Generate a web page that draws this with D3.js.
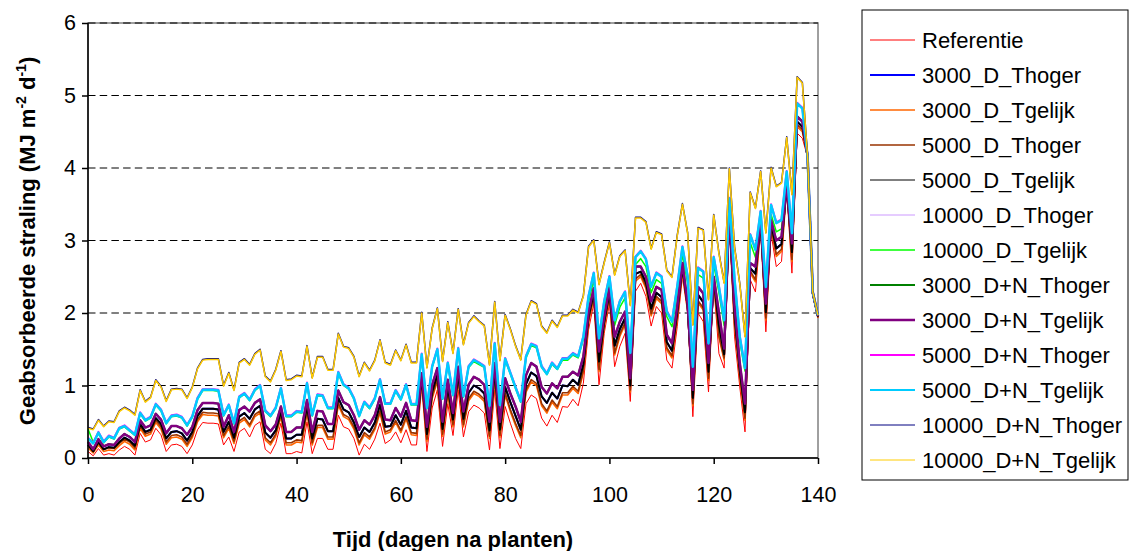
<!DOCTYPE html>
<html><head><meta charset="utf-8">
<script src="https://cdn.jsdelivr.net/npm/d3@7"></script>
<style>body{margin:0;background:#fff;} text{font-family:"Liberation Sans",Arial,sans-serif;fill:#000;}</style>
</head><body><svg id="c" width="1130" height="551"></svg>
<script>
// ---- data ----
const days = d3.range(0, 141);
const xTicks = [0,20,40,60,80,100,120,140];
const yTicks = [0,1,2,3,4,5,6];

const referentie = [0.09,0.03,0.13,0.04,0.06,0.04,0.11,0.16,0.12,0.04,
 0.34,0.22,0.25,0.41,0.32,0.09,0.18,0.19,0.16,0.06,
 0.18,0.39,0.49,0.48,0.48,0.47,0.18,0.29,0.09,0.36,
 0.41,0.29,0.45,0.50,0.12,0.06,0.20,0.48,0.06,0.06,
 0.09,0.07,0.50,0.06,0.27,0.27,0.12,0.12,0.59,0.43,
 0.40,0.27,0.04,0.19,0.12,0.26,0.48,0.20,0.25,0.36,
 0.21,0.39,0.18,0.18,0.98,0.09,0.69,0.94,0.16,0.75,
 0.31,0.94,0.29,0.64,0.73,0.69,0.62,0.11,0.94,0.13,
 0.71,0.48,0.27,0.13,0.75,0.87,0.82,0.55,0.44,0.59,
 0.49,0.71,0.70,0.81,0.72,1.03,1.77,2.13,1.01,1.72,
 2.13,1.26,1.54,1.72,0.78,2.30,2.41,2.23,1.82,2.09,
 2.00,1.35,1.24,1.81,2.50,2.00,0.57,2.00,1.88,0.91,
 2.41,1.44,1.24,3.24,1.67,0.98,0.36,2.46,2.29,3.14,
 1.74,3.10,2.64,2.71,3.70,2.55,4.48,4.41,4.15,2.25,
 1.93];

const d3000_Thoger = [0.18,0.09,0.22,0.12,0.15,0.14,0.22,0.28,0.24,0.17,
 0.47,0.36,0.39,0.55,0.47,0.27,0.36,0.37,0.34,0.24,
 0.36,0.58,0.68,0.68,0.68,0.67,0.36,0.50,0.28,0.57,
 0.62,0.54,0.67,0.72,0.35,0.28,0.38,0.64,0.27,0.27,
 0.32,0.32,0.71,0.27,0.54,0.53,0.37,0.37,0.83,0.67,
 0.63,0.49,0.29,0.42,0.36,0.49,0.73,0.43,0.44,0.59,
 0.46,0.65,0.42,0.41,1.11,0.33,0.91,1.15,0.40,0.98,
 0.53,1.16,0.54,0.90,1.00,0.96,0.89,0.38,1.20,0.39,
 0.98,0.77,0.58,0.39,1.02,1.18,1.13,0.85,0.76,0.90,
 0.82,1.00,0.99,1.08,1.01,1.29,1.95,2.28,1.33,1.88,
 2.28,1.55,1.78,1.93,1.00,2.54,2.57,2.42,2.06,2.28,
 2.22,1.60,1.48,2.01,2.63,2.09,0.83,2.25,2.15,1.19,
 2.47,1.83,1.43,3.37,1.96,1.21,0.63,2.62,2.54,3.26,
 2.01,3.23,2.89,2.95,3.76,2.84,4.64,4.57,4.16,2.27,
 1.95];

const d3000_Tgelijk = [0.14,0.07,0.18,0.09,0.11,0.10,0.17,0.23,0.19,0.11,
 0.41,0.30,0.33,0.49,0.40,0.19,0.28,0.29,0.26,0.16,
 0.28,0.50,0.60,0.59,0.59,0.58,0.28,0.41,0.20,0.48,
 0.53,0.43,0.57,0.62,0.25,0.18,0.30,0.57,0.18,0.18,
 0.22,0.21,0.62,0.18,0.42,0.42,0.26,0.26,0.73,0.57,
 0.53,0.40,0.18,0.32,0.26,0.39,0.62,0.33,0.36,0.49,
 0.35,0.54,0.32,0.31,1.06,0.23,0.82,1.06,0.30,0.88,
 0.43,1.07,0.43,0.79,0.89,0.85,0.78,0.27,1.09,0.28,
 0.87,0.64,0.45,0.28,0.91,1.05,1.00,0.72,0.62,0.77,
 0.68,0.87,0.87,0.96,0.89,1.18,1.87,2.21,1.19,1.81,
 2.21,1.42,1.68,1.84,0.91,2.44,2.50,2.34,1.96,2.20,
 2.13,1.49,1.38,1.92,2.58,2.05,0.72,2.14,2.04,1.07,
 2.45,1.66,1.35,3.31,1.84,1.11,0.52,2.55,2.43,3.21,
 1.90,3.17,2.78,2.85,3.74,2.71,4.57,4.50,4.16,2.26,
 1.94];

const d5000_Thoger = [0.17,0.10,0.21,0.12,0.14,0.13,0.20,0.26,0.22,0.14,
 0.44,0.33,0.36,0.52,0.43,0.22,0.31,0.32,0.29,0.19,
 0.31,0.53,0.63,0.62,0.62,0.61,0.31,0.44,0.23,0.51,
 0.56,0.46,0.60,0.65,0.28,0.21,0.33,0.60,0.21,0.21,
 0.25,0.24,0.65,0.21,0.45,0.45,0.29,0.29,0.76,0.60,
 0.56,0.43,0.21,0.35,0.29,0.42,0.65,0.36,0.39,0.52,
 0.38,0.57,0.35,0.34,1.09,0.26,0.85,1.09,0.33,0.91,
 0.46,1.10,0.46,0.82,0.92,0.88,0.81,0.30,1.12,0.31,
 0.90,0.67,0.48,0.31,0.94,1.08,1.03,0.75,0.65,0.80,
 0.71,0.90,0.90,0.99,0.92,1.21,1.90,2.24,1.22,1.84,
 2.24,1.45,1.71,1.87,0.94,2.47,2.53,2.37,1.99,2.23,
 2.16,1.52,1.41,1.95,2.61,2.08,0.75,2.17,2.07,1.10,
 2.48,1.69,1.38,3.34,1.87,1.14,0.55,2.58,2.46,3.24,
 1.93,3.20,2.81,2.88,3.77,2.74,4.60,4.53,4.16,2.26,
 1.94];

const d5000_Tgelijk = [0.18,0.09,0.22,0.12,0.15,0.14,0.22,0.28,0.24,0.17,
 0.47,0.36,0.39,0.55,0.47,0.27,0.36,0.37,0.34,0.24,
 0.36,0.58,0.68,0.68,0.68,0.67,0.36,0.50,0.28,0.57,
 0.62,0.54,0.67,0.72,0.35,0.28,0.38,0.64,0.27,0.27,
 0.32,0.32,0.71,0.27,0.54,0.53,0.37,0.37,0.83,0.67,
 0.63,0.49,0.29,0.42,0.36,0.49,0.73,0.43,0.44,0.59,
 0.46,0.65,0.42,0.41,1.11,0.33,0.91,1.15,0.40,0.98,
 0.53,1.16,0.54,0.90,1.00,0.96,0.89,0.38,1.20,0.39,
 0.98,0.77,0.58,0.39,1.02,1.18,1.13,0.85,0.76,0.90,
 0.82,1.00,0.99,1.08,1.01,1.29,1.95,2.28,1.33,1.88,
 2.28,1.55,1.78,1.93,1.00,2.54,2.57,2.42,2.06,2.28,
 2.22,1.60,1.48,2.01,2.63,2.09,0.83,2.25,2.15,1.19,
 2.47,1.83,1.43,3.37,1.96,1.21,0.63,2.62,2.54,3.26,
 2.01,3.23,2.89,2.95,3.76,2.84,4.64,4.57,4.16,2.27,
 1.95];

const d10000_Thoger = [0.27,0.20,0.35,0.22,0.30,0.27,0.41,0.44,0.38,0.32,
 0.62,0.52,0.56,0.74,0.66,0.48,0.58,0.59,0.56,0.45,
 0.57,0.82,0.94,0.94,0.94,0.93,0.59,0.73,0.48,0.84,
 0.89,0.80,0.94,1.00,0.65,0.58,0.69,0.96,0.58,0.58,
 0.64,0.63,1.03,0.59,0.87,0.86,0.69,0.69,1.18,1.01,
 0.96,0.82,0.58,0.77,0.69,0.82,1.08,0.75,0.75,0.93,
 0.81,1.01,0.74,0.74,1.43,0.69,1.26,1.50,0.82,1.31,
 0.87,1.51,0.85,1.26,1.35,1.31,1.26,0.72,1.58,0.73,
 1.37,1.17,0.97,0.78,1.40,1.57,1.54,1.26,1.16,1.31,
 1.23,1.37,1.37,1.44,1.40,1.67,2.23,2.55,1.65,2.16,
 2.50,1.90,2.16,2.29,1.45,2.77,2.85,2.74,2.36,2.55,
 2.50,2.02,1.88,2.36,2.91,2.50,1.26,2.62,2.57,1.58,
 2.77,2.36,1.90,3.58,2.46,1.67,1.24,3.08,2.87,3.40,
 2.36,3.49,3.24,3.28,3.95,3.10,4.89,4.82,4.16,2.29,
 1.97];

const d10000_Tgelijk = [0.40,0.22,0.34,0.21,0.29,0.26,0.40,0.43,0.37,0.31,
 0.61,0.51,0.55,0.73,0.65,0.47,0.57,0.58,0.55,0.44,
 0.56,0.81,0.93,0.93,0.93,0.92,0.58,0.72,0.47,0.83,
 0.88,0.79,0.93,0.99,0.64,0.57,0.68,0.95,0.57,0.57,
 0.63,0.62,1.02,0.58,0.86,0.85,0.68,0.68,1.16,1.00,
 0.95,0.81,0.57,0.76,0.68,0.81,1.07,0.74,0.74,0.92,
 0.80,1.00,0.73,0.73,1.41,0.68,1.25,1.48,0.81,1.29,
 0.86,1.49,0.84,1.25,1.33,1.29,1.25,0.71,1.56,0.72,
 1.35,1.16,0.96,0.77,1.38,1.55,1.52,1.25,1.15,1.29,
 1.22,1.35,1.35,1.42,1.38,1.64,2.15,2.46,1.61,2.08,
 2.41,1.83,2.08,2.21,1.40,2.67,2.75,2.64,2.28,2.46,
 2.41,1.95,1.81,2.28,2.81,2.41,1.22,2.53,2.48,1.52,
 2.67,2.28,1.83,3.45,2.37,1.61,1.20,2.97,2.77,3.28,
 2.28,3.36,3.12,3.16,3.81,2.99,4.72,4.65,4.16,2.28,
 1.96];

const dn3000_Thoger = [0.22,0.12,0.26,0.16,0.19,0.18,0.27,0.33,0.29,0.22,
 0.52,0.42,0.45,0.61,0.53,0.34,0.44,0.44,0.41,0.32,
 0.43,0.66,0.76,0.76,0.76,0.75,0.43,0.59,0.36,0.66,
 0.71,0.64,0.76,0.81,0.45,0.37,0.46,0.71,0.36,0.36,
 0.42,0.42,0.80,0.36,0.65,0.64,0.47,0.47,0.93,0.77,
 0.73,0.59,0.39,0.52,0.46,0.59,0.84,0.53,0.52,0.69,
 0.57,0.76,0.52,0.51,1.17,0.43,1.01,1.24,0.50,1.08,
 0.62,1.26,0.64,1.01,1.12,1.08,1.01,0.50,1.31,0.50,
 1.10,0.89,0.71,0.50,1.14,1.31,1.26,0.98,0.89,1.03,
 0.96,1.12,1.12,1.19,1.14,1.40,2.02,2.34,1.47,1.95,
 2.34,1.67,1.88,2.02,1.10,2.64,2.64,2.50,2.16,2.36,
 2.32,1.70,1.58,2.09,2.69,2.13,0.94,2.36,2.27,1.31,
 2.50,2.00,1.51,3.42,2.09,1.31,0.75,2.69,2.64,3.31,
 2.13,3.28,3.00,3.05,3.79,2.96,4.71,4.64,4.17,2.28,
 1.96];

const dn3000_Tgelijk = [0.22,0.12,0.26,0.16,0.19,0.18,0.27,0.33,0.29,0.22,
 0.52,0.42,0.45,0.61,0.53,0.34,0.44,0.44,0.41,0.32,
 0.43,0.66,0.76,0.76,0.76,0.75,0.43,0.59,0.36,0.66,
 0.71,0.64,0.76,0.81,0.45,0.37,0.46,0.71,0.36,0.36,
 0.42,0.42,0.80,0.36,0.65,0.64,0.47,0.47,0.93,0.77,
 0.73,0.59,0.39,0.52,0.46,0.59,0.84,0.53,0.52,0.69,
 0.57,0.76,0.52,0.51,1.17,0.43,1.01,1.24,0.50,1.08,
 0.62,1.26,0.64,1.01,1.12,1.08,1.01,0.50,1.31,0.50,
 1.10,0.89,0.71,0.50,1.14,1.31,1.26,0.98,0.89,1.03,
 0.96,1.12,1.12,1.19,1.14,1.40,2.02,2.34,1.47,1.95,
 2.34,1.67,1.88,2.02,1.10,2.64,2.64,2.50,2.16,2.36,
 2.32,1.70,1.58,2.09,2.69,2.13,0.94,2.36,2.27,1.31,
 2.50,2.00,1.51,3.42,2.09,1.31,0.75,2.69,2.64,3.31,
 2.13,3.28,3.00,3.05,3.79,2.96,4.71,4.64,4.17,2.28,
 1.96];

const dn5000_Thoger = [0.28,0.21,0.36,0.23,0.31,0.28,0.42,0.45,0.39,0.33,
 0.63,0.53,0.57,0.75,0.67,0.49,0.59,0.60,0.57,0.46,
 0.58,0.83,0.95,0.95,0.95,0.94,0.60,0.74,0.49,0.85,
 0.90,0.81,0.95,1.01,0.66,0.59,0.70,0.97,0.59,0.59,
 0.65,0.64,1.04,0.60,0.88,0.87,0.70,0.70,1.19,1.02,
 0.97,0.83,0.59,0.78,0.70,0.83,1.09,0.76,0.76,0.94,
 0.82,1.02,0.75,0.75,1.44,0.70,1.27,1.51,0.83,1.32,
 0.88,1.52,0.86,1.27,1.36,1.32,1.27,0.73,1.59,0.74,
 1.38,1.18,0.98,0.79,1.41,1.58,1.55,1.27,1.17,1.32,
 1.24,1.38,1.38,1.45,1.41,1.68,2.24,2.56,1.66,2.17,
 2.51,1.91,2.17,2.30,1.46,2.78,2.86,2.75,2.37,2.56,
 2.51,2.03,1.89,2.37,2.92,2.51,1.27,2.63,2.58,1.59,
 2.78,2.37,1.91,3.59,2.47,1.68,1.25,3.09,2.88,3.41,
 2.37,3.50,3.25,3.29,3.96,3.11,4.90,4.83,4.17,2.30,
 1.98];

const dn5000_Tgelijk = [0.27,0.20,0.35,0.22,0.30,0.27,0.41,0.44,0.38,0.32,
 0.62,0.52,0.56,0.74,0.66,0.48,0.58,0.59,0.56,0.45,
 0.57,0.82,0.94,0.94,0.94,0.93,0.59,0.73,0.48,0.84,
 0.89,0.80,0.94,1.00,0.65,0.58,0.69,0.96,0.58,0.58,
 0.64,0.63,1.03,0.59,0.87,0.86,0.69,0.69,1.18,1.01,
 0.96,0.82,0.58,0.77,0.69,0.82,1.08,0.75,0.75,0.93,
 0.81,1.01,0.74,0.74,1.43,0.69,1.26,1.50,0.82,1.31,
 0.87,1.51,0.85,1.26,1.35,1.31,1.26,0.72,1.58,0.73,
 1.37,1.17,0.97,0.78,1.40,1.57,1.54,1.26,1.16,1.31,
 1.23,1.37,1.37,1.44,1.40,1.67,2.23,2.55,1.65,2.16,
 2.50,1.90,2.16,2.29,1.45,2.77,2.85,2.74,2.36,2.55,
 2.50,2.02,1.88,2.36,2.91,2.50,1.26,2.62,2.57,1.58,
 2.77,2.36,1.90,3.58,2.46,1.67,1.24,3.08,2.87,3.40,
 2.36,3.49,3.24,3.28,3.95,3.10,4.89,4.82,4.16,2.29,
 1.97];

const dn10000_Thoger = [0.42,0.40,0.53,0.44,0.51,0.50,0.65,0.70,0.66,0.60,
 0.94,0.78,0.84,1.08,0.99,0.79,0.95,0.96,0.95,0.83,
 0.98,1.24,1.36,1.37,1.37,1.37,1.00,1.18,0.94,1.32,
 1.37,1.29,1.44,1.50,1.13,1.06,1.22,1.48,1.08,1.09,
 1.14,1.13,1.55,1.11,1.40,1.40,1.22,1.22,1.72,1.54,
 1.52,1.40,1.13,1.32,1.21,1.35,1.63,1.32,1.29,1.49,
 1.35,1.57,1.32,1.32,2.01,1.25,1.79,2.07,1.34,1.88,
 1.45,2.06,1.57,1.87,1.96,1.89,1.83,1.29,2.16,1.35,
 1.98,1.78,1.55,1.36,1.98,2.17,2.13,1.82,1.73,1.90,
 1.81,1.97,1.97,2.05,2.01,2.24,2.92,3.01,2.40,2.70,
 2.98,2.53,2.79,2.87,2.11,3.32,3.32,3.26,2.89,3.12,
 3.09,2.59,2.50,3.07,3.51,3.11,1.84,3.18,3.15,2.19,
 3.36,2.83,2.42,4.00,2.91,2.41,1.68,3.67,3.45,3.96,
 3.11,4.01,3.75,3.80,4.43,3.64,5.26,5.18,4.17,2.30,
 1.98];

const dn10000_Tgelijk = [0.41,0.39,0.52,0.43,0.50,0.49,0.64,0.69,0.65,0.59,
 0.93,0.77,0.83,1.07,0.98,0.78,0.94,0.95,0.94,0.82,
 0.97,1.23,1.35,1.36,1.36,1.36,0.99,1.17,0.93,1.31,
 1.36,1.28,1.43,1.49,1.12,1.05,1.21,1.47,1.07,1.08,
 1.13,1.12,1.54,1.10,1.39,1.39,1.21,1.21,1.71,1.53,
 1.51,1.39,1.12,1.31,1.20,1.34,1.62,1.31,1.28,1.48,
 1.34,1.56,1.31,1.31,2.00,1.24,1.78,2.06,1.33,1.87,
 1.44,2.05,1.56,1.86,1.95,1.88,1.82,1.28,2.15,1.34,
 1.97,1.77,1.54,1.35,1.97,2.16,2.12,1.81,1.72,1.89,
 1.80,1.96,1.96,2.04,2.00,2.23,2.91,3.00,2.39,2.69,
 2.97,2.52,2.78,2.86,2.10,3.31,3.31,3.25,2.88,3.11,
 3.08,2.58,2.49,3.06,3.50,3.10,1.83,3.17,3.14,2.18,
 3.35,2.82,2.41,3.99,2.90,2.40,1.67,3.66,3.44,3.95,
 3.10,4.00,3.74,3.79,4.42,3.63,5.25,5.17,4.16,2.29,
 1.97];

const seriesNames = ["Referentie","3000_D_Thoger","3000_D_Tgelijk","5000_D_Thoger","5000_D_Tgelijk",
 "10000_D_Thoger","10000_D_Tgelijk","3000_D+N_Thoger","3000_D+N_Tgelijk","5000_D+N_Thoger",
 "5000_D+N_Tgelijk","10000_D+N_Thoger","10000_D+N_Tgelijk"];
const seriesValues = [referentie,d3000_Thoger,d3000_Tgelijk,d5000_Thoger,d5000_Tgelijk,
 d10000_Thoger,d10000_Tgelijk,dn3000_Thoger,dn3000_Tgelijk,dn5000_Thoger,
 dn5000_Tgelijk,dn10000_Thoger,dn10000_Tgelijk];
const seriesColors = ["#FF0000","#0000FF","#FF6600","#993300","#000000",
 "#CC99FF","#00FF00","#008000","#800080","#FF00FF",
 "#00CCFF","#000080","#FFCC00"];
const plotWidths   = [1,2,1.6,1.6,2,1,1.5,2,2.5,2,2.5,1.5,1.5];
const legendWidths = [1,2,1.5,1.5,1,1,1.5,2,2.5,2,2,1,1];

// ---- drawing ----
const svg = d3.select("#c");
svg.append("rect").attr("width",1130).attr("height",551).attr("fill","#fff");

const x = d3.scaleLinear().domain([0,140]).range([88,818]);
const y = d3.scaleLinear().domain([0,6]).range([458,23]);

// plot border
svg.append("rect").attr("x",88).attr("y",23).attr("width",730).attr("height",435)
  .attr("fill","none").attr("stroke","#808080").attr("stroke-width",1.5);

// gridlines
svg.append("g").selectAll("line").data(yTicks.filter(v=>v>0)).join("line")
  .attr("x1",88).attr("x2",818).attr("y1",d=>y(d)).attr("y2",d=>y(d))
  .attr("stroke","#000").attr("stroke-width",1).attr("stroke-dasharray","7.5,4.2");

// series
const line = d3.line().x((d,i)=>x(days[i])).y(d=>y(d)).curve(d3.curveLinear);
const gS = svg.append("g");
seriesValues.forEach((vals,k)=>{
  gS.append("path").datum(vals).attr("d",line).attr("fill","none")
    .attr("stroke",seriesColors[k]).attr("stroke-width",plotWidths[k])
    .attr("stroke-linejoin","round");
});

// axes
const yAxis = svg.append("g").attr("transform","translate(88,0)")
  .call(d3.axisLeft(y).tickValues(yTicks).tickSize(6).tickPadding(6).tickFormat(d3.format("d")));
const xAxis = svg.append("g").attr("transform","translate(0,458)")
  .call(d3.axisBottom(x).tickValues(xTicks).tickSize(6).tickPadding(23).tickFormat(d3.format("d")));
[yAxis,xAxis].forEach(a=>{
  a.select(".domain").remove();
  a.selectAll(".tick line").attr("stroke","#000").attr("stroke-width",1.5);
  a.selectAll(".tick text").attr("font-size","21.5px").attr("fill","#000")
    .attr("font-family",'"Liberation Sans",Arial,sans-serif');
});
svg.append("line").attr("x1",88).attr("x2",88).attr("y1",23).attr("y2",458.7)
  .attr("stroke","#000").attr("stroke-width",1.5);
svg.append("line").attr("x1",87.3).attr("x2",818).attr("y1",458).attr("y2",458)
  .attr("stroke","#000").attr("stroke-width",1.5);

// axis titles
svg.append("text").attr("x",453).attr("y",547).attr("text-anchor","middle")
  .attr("font-size","22px").attr("font-weight","bold").text("Tijd (dagen na planten)");
const yt = svg.append("text").attr("transform","translate(35,241) rotate(-90)")
  .attr("text-anchor","middle").attr("font-size","22px").attr("font-weight","bold");
yt.append("tspan").text("Geabsorbeerde straling (MJ m");
yt.append("tspan").attr("font-size","14px").attr("dy","-9").text("-2");
yt.append("tspan").attr("dy","9").text(" d");
yt.append("tspan").attr("font-size","14px").attr("dy","-9").text("-1");
yt.append("tspan").attr("dy","9").text(")");

// legend
const lg = svg.append("g");
lg.append("rect").attr("x",862).attr("y",10).attr("width",266).attr("height",470)
  .attr("fill","#fff").attr("stroke","#000").attr("stroke-width",1);
seriesNames.forEach((nm,k)=>{
  const yy = 40 + 35*k;
  lg.append("line").attr("x1",870).attr("x2",915).attr("y1",yy).attr("y2",yy)
    .attr("stroke",seriesColors[k]).attr("stroke-width",legendWidths[k]);
  lg.append("text").attr("x",922).attr("y",yy).attr("dy","0.36em")
    .attr("font-size","22px").text(nm);
});
</script></body></html>
